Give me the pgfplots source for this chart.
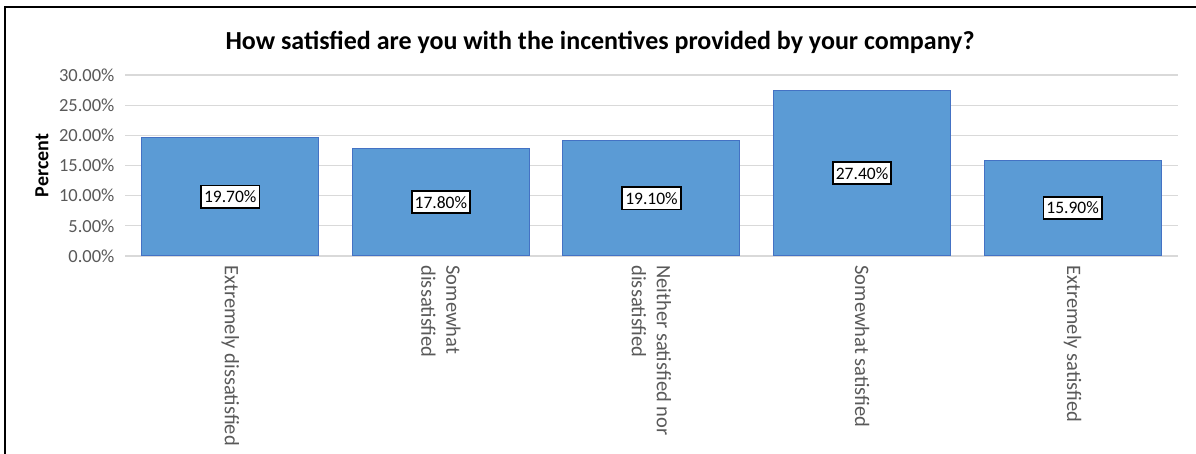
\documentclass[border=0pt]{standalone}
\usepackage{pgfplots}
\pgfplotsset{compat=1.18}
\usepackage{fontspec}
\setmainfont{Carlito}
\definecolor{barfill}{HTML}{5B9BD5}
\definecolor{barline}{HTML}{4472C4}
\definecolor{gridc}{HTML}{D9D9D9}
\definecolor{txtgray}{HTML}{595959}
\begin{document}
\begin{tikzpicture}
\useasboundingbox (0pt,0pt) rectangle (1196pt,454pt);
\fill[white] (0pt,0pt) rectangle (1196pt,454pt);
\draw[line width=2pt,black] (5pt,0pt) -- (5pt,447pt) -- (1196pt,447pt);
\node[font=\fontsize{26}{30}\selectfont\bfseries, anchor=center] at (600pt,412pt) {How satisfied are you with the incentives provided by your company?};
\begin{axis}[
  at={(125pt,198pt)}, anchor=south west,
  scale only axis, width=1053pt, height=181pt,
  xmin=-0.5, xmax=4.5, ymin=0, ymax=30,
  axis line style={draw=none},
  ymajorgrids, grid style={gridc, line width=1.2pt},
  ytick={0,5,10,15,20,25,30},
  xtick={0,1,2,3,4},
  xticklabels={{Extremely dissatisfied},{Somewhat\\dissatisfied},{Neither satisfied nor\\dissatisfied},{Somewhat satisfied},{Extremely satisfied}},
  xticklabel style={rotate=-90, anchor=west, align=left, text=txtgray, font=\fontsize{20.5}{25}\selectfont, xshift=6pt},
  major tick length=0pt,
  /pgf/number format/assume math mode=true,
  yticklabel={\pgfmathprintnumber[fixed,fixed zerofill,precision=2]{\tick}\%},
  yticklabel style={text=txtgray, font=\fontsize{18.5}{21}\selectfont, anchor=east, xshift=-7pt},
  ylabel={Percent},
  every axis y label/.style={at={(axis description cs:0,0.5)}, xshift=-83pt, rotate=90, anchor=center, font=\fontsize{20}{24}\selectfont\bfseries},
  clip=false,
]
\addplot[ybar, bar width=177pt, fill=barfill, draw=barline, line width=1pt,
  visualization depends on=rawy \as \rawy,
  nodes near coords={\pgfmathprintnumber[fixed,fixed zerofill,precision=2,assume math mode=true]{\pgfplotspointmeta}\%},
  every node near coord/.append style={shift={(axis direction cs:0,-\rawy/2)}, anchor=center, fill=white, draw=black, line width=1.8pt, text=black, font=\fontsize{17.5}{21}\selectfont, inner xsep=3pt, inner ysep=5pt}
] coordinates {(0,19.7) (1,17.8) (2,19.1) (3,27.4) (4,15.9)};
\end{axis}
\end{tikzpicture}
\end{document}
